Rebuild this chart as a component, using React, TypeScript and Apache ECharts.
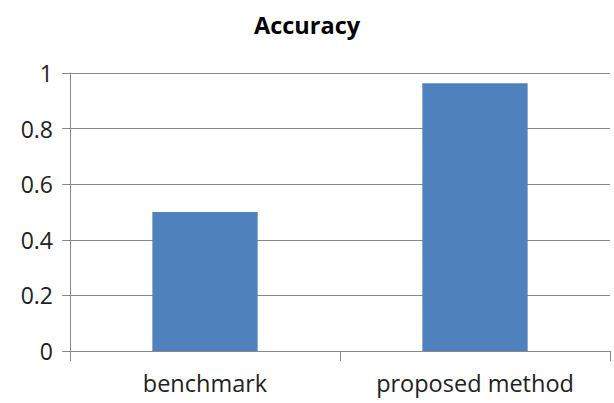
import React, { useEffect, useRef } from "react";
import * as echarts from "echarts";

const categories = ["benchmark", "proposed method"];
const accuracy = [0.5, 0.963];
const yTicks = [0, 0.2, 0.4, 0.6, 0.8, 1];

export default function App() {
  const ref = useRef<HTMLDivElement>(null);
  useEffect(() => {
    const chart = echarts.init(ref.current!, null, { renderer: "svg" });
    chart.setOption({
      animation: false,
      title: {
        text: "Accuracy",
        left: "center",
        top: 8,
        textStyle: { fontFamily: "Open Sans", fontWeight: "bold", fontSize: 23.5, color: "#000" },
      },
      grid: { left: 70, right: 4, top: 73, bottom: 52 },
      xAxis: {
        type: "category",
        data: categories,
        axisLine: { lineStyle: { color: "#888", width: 1 } },
        axisTick: { show: true, length: 10, lineStyle: { color: "#888" }, alignWithLabel: false },
        axisLabel: { margin: 20, fontFamily: "Open Sans", fontSize: 23.5, color: "#222" },
      },
      yAxis: {
        type: "value",
        min: 0,
        max: 1,
        interval: 0.2,
        axisLine: { show: true, lineStyle: { color: "#888", width: 1 } },
        axisTick: { show: true, length: 8, lineStyle: { color: "#888" } },
        splitLine: { lineStyle: { color: "#888", width: 1 } },
        axisLabel: {
          margin: 17,
          fontFamily: "Open Sans",
          fontSize: 23,
          color: "#222",
          formatter: (v: number) => (yTicks.includes(Math.round(v * 10) / 10) ? String(Math.round(v * 10) / 10) : ""),
        },
      },
      series: [
        {
          type: "bar",
          data: accuracy,
          barWidth: "39%",
          itemStyle: { color: "#4f81bd" },
        },
      ],
    });
    return () => chart.dispose();
  }, []);
  return <div ref={ref} style={{ width: 614, height: 403, position: "absolute", left: 0, top: 0, background: "#fff" }} />;
}
